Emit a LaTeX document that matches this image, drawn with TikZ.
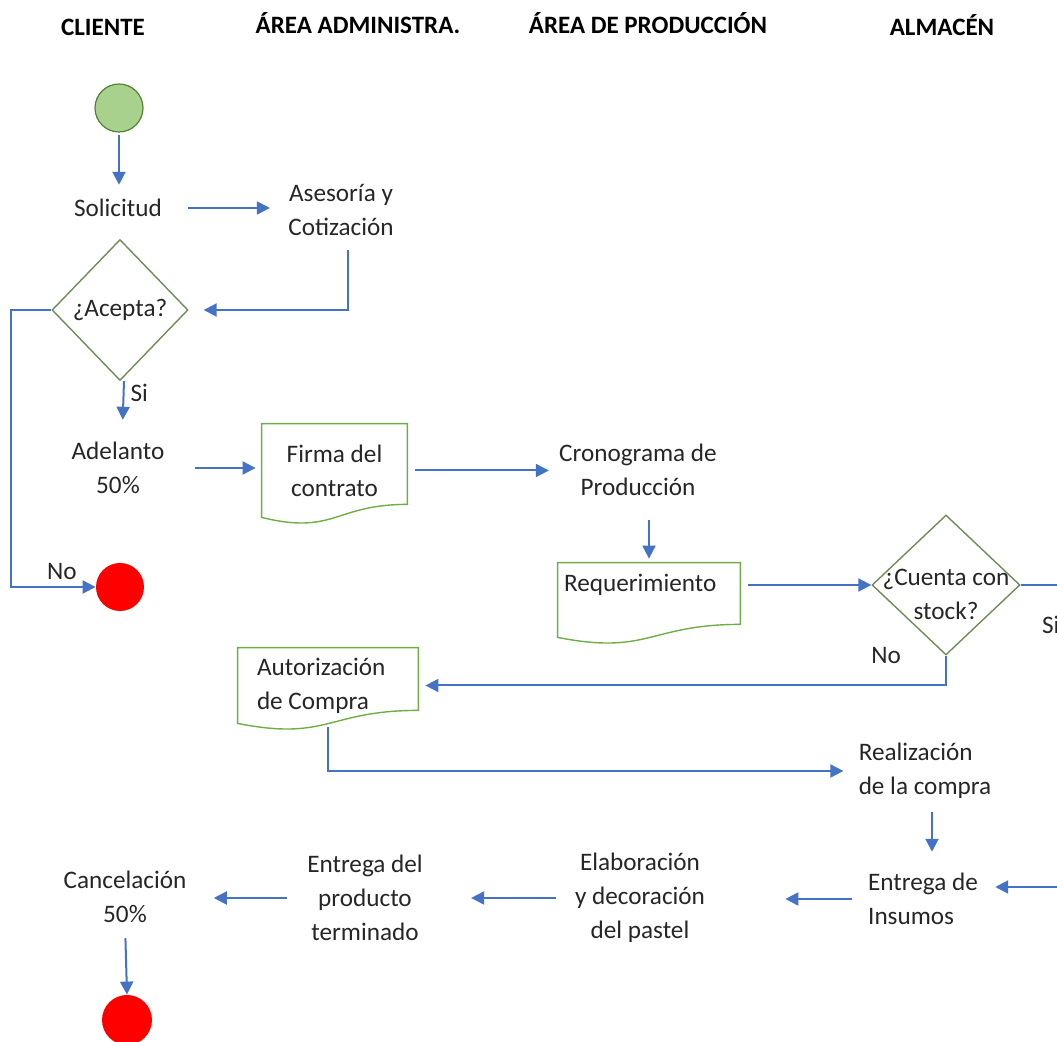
\documentclass[tikz,border=0pt]{standalone}
\usepackage{fontspec}
\setmainfont{Carlito}
\usetikzlibrary{shapes.geometric,arrows.meta,calc}

\definecolor{flowblue}{RGB}{68,114,196}
\definecolor{docgreen}{RGB}{112,173,71}
\definecolor{diagreen}{RGB}{110,140,90}
\definecolor{startfill}{RGB}{169,209,142}
\definecolor{startline}{RGB}{84,130,53}

\tikzset{
  hdr/.style={font=\bfseries\fontsize{12.5}{15}\selectfont, anchor=base},
  txt/.style={font=\fontsize{12.6}{17}\selectfont, align=center, inner sep=0pt, text=black!85},
  docnode/.style={txt},
  docline/.style={draw=docgreen, line width=0.7pt},
  decision/.style={diamond, draw=diagreen, line width=0.7pt, inner sep=0pt},
  startnode/.style={circle, fill=startfill, draw=startline, line width=0.6pt, minimum size=24pt, inner sep=0pt},
  endnode/.style={circle, fill=red, minimum size=24pt, inner sep=0pt},
  flow/.style={draw=flowblue, line width=1pt, -{Triangle[length=6.5pt,width=6.5pt]}}
}

\newcommand{\docoutline}[1]{%
  \draw[docline] ([yshift=6.5pt]#1.south east) -- (#1.north east) -- (#1.north west)
    -- (#1.south west) .. controls ([yshift=-9pt]#1.south) and ([yshift=6.5pt]#1.south) .. cycle;}

\begin{document}
\begin{tikzpicture}[x=0.5pt,y=-0.5pt]
\useasboundingbox (0,0) rectangle (1057,1042);
\clip (0,0) rectangle (1057,1042);

\node[hdr] (hcliente) at (103,36) {CLIENTE};
\node[hdr] (hadmin) at (358,34) {ÁREA ADMINISTRA.};
\node[hdr] (hprod) at (648,34) {ÁREA DE PRODUCCIÓN};
\node[hdr] (halmacen) at (942,36) {ALMACÉN};

\node[startnode] (start) at (119,108) {};
\node[txt] (solicitud) at (118,208) {Solicitud};
\node[txt] (asesoria) at (341,210) {Asesoría y\\Cotización};
\node[decision, minimum width=68pt, minimum height=70.5pt, label={[txt]center:¿Acepta?}] (acepta) at (120,310) {};
\node[txt] (adelanto) at (118,468) {Adelanto\\50\%};
\node[endnode] (finNo) at (120,587) {};
\node[docnode, minimum width=72.5pt, minimum height=46.5pt] (firma) at (334.5,470.5) {Firma del\\contrato};
\docoutline{firma}
\node[txt] (cronograma) at (638,470) {Cronograma de\\Producción};
\node[docnode, minimum width=91pt, minimum height=37pt, text width=85pt, inner xsep=3pt, align=flush left] (reque) at (649,600) {Requerimiento\\\mbox{}};
\docoutline{reque}
\node[decision, minimum width=74pt, minimum height=70pt, label={[txt, yshift=-4.75pt]center:¿Cuenta con\\stock?}] (cuenta) at (946,585) {};
\node[docnode, minimum width=90pt, minimum height=37.5pt, text width=71pt, inner xsep=9.5pt, align=flush left] (autoriz) at (328,685.5) {Autorización\\de Compra};
\docoutline{autoriz}
\node[txt, align=flush left] (realiz) at (925,771) {Realización\\de la compra};
\node[txt, align=flush left] (insumos) at (923,899) {Entrega de\\Insumos};
\node[txt] (elabor) at (640,898) {Elaboración\\y decoración\\del pastel};
\node[txt] (entregaprod) at (365,898) {Entrega del\\producto\\terminado};
\node[txt] (cancel) at (125,897) {Cancelación\\50\%};
\node[endnode, minimum size=25pt] (finOk) at (127,1020) {};

\draw[flow, shorten <=1pt, shorten >=7pt] (start.south) -- (start.south |- solicitud.north);
\draw[flow, shorten <=13pt, shorten >=9pt] (solicitud.east) -- (solicitud.east -| asesoria.west);
\draw[flow, shorten <=7pt, shorten >=7.5pt] ([xshift=3.5pt]asesoria.south) |- (acepta.east);
\draw[flow] (acepta.west) -- ++(-20pt,0) |- (finNo.west) node[txt, pos=0.8, above=3pt] {No};
\draw[flow, shorten >=11pt] ([xshift=2pt]acepta.south) -- ([xshift=2pt]adelanto.north) node[txt, pos=0.2, right=3pt] {Si};
\draw[flow, shorten <=15pt, shorten >=3pt] (adelanto.east) -- (adelanto.east -| firma.west);
\draw[flow, shorten <=4pt, shorten >=5pt] (firma.east) -- (firma.east -| cronograma.west);
\draw[flow, shorten <=12pt, shorten >=2pt] (cronograma.south -| reque.north) -- (reque.north);
\draw[flow, shorten <=4pt] (reque.east |- cuenta.west) -- (cuenta.west);
\draw[flow, shorten >=8.5pt] (cuenta.east) -- ++(40pt,0) node[txt, pos=0.375, below=15pt] {Si} |- ([yshift=6pt]insumos.east);
\draw[flow, shorten >=3.5pt] (cuenta.south) node[txt, left=22pt] {No} |- (autoriz.east);
\draw[flow, shorten <=2pt, shorten >=7.5pt] (autoriz.south) |- (realiz.west);
\draw[flow, shorten <=6.5pt, shorten >=10.5pt] ([xshift=3.5pt]realiz.south) -- ([xshift=3.5pt]realiz.south |- insumos.north);
\draw[flow, shorten <=8pt, shorten >=40pt] (insumos.west) -- (insumos.west -| elabor.east);
\draw[flow, shorten <=9.5pt, shorten >=24pt] (elabor.west) -- (elabor.west -| entregaprod.east);
\draw[flow, shorten <=10pt, shorten >=13.5pt] (entregaprod.west) -- (entregaprod.west -| cancel.east);
\draw[flow, shorten <=7.5pt] (cancel.south) -- (finOk.north);
\end{tikzpicture}
\end{document}
